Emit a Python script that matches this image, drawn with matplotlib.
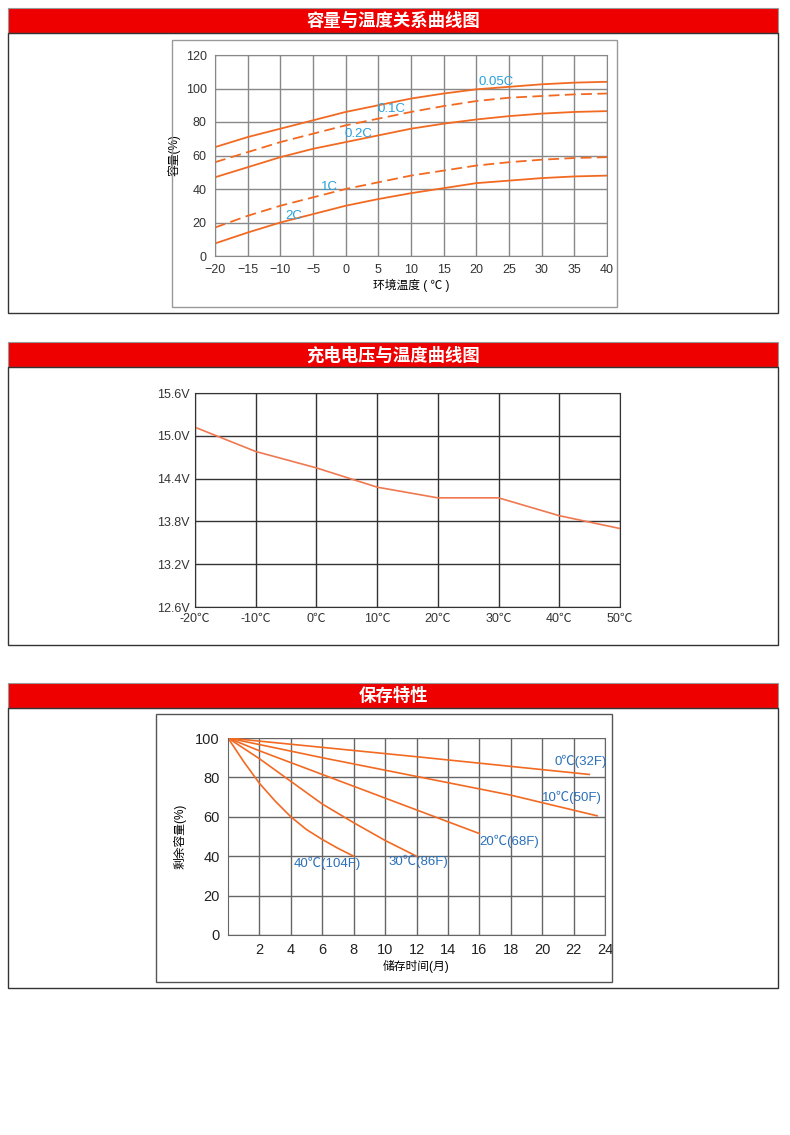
import matplotlib
matplotlib.use("Agg")
import matplotlib.pyplot as plt
from matplotlib.patches import Rectangle

plt.rcParams["font.family"] = ["Liberation Sans", "Noto Sans CJK SC", "DejaVu Sans"]

W, H = 790, 1135

# chart 1: capacity vs temperature
temp1 = [-20, -15, -10, -5, 0, 5, 10, 15, 20, 25, 30, 35, 40]
cap_005 = [65, 71, 76, 81, 86, 90, 94, 97, 99.5, 101, 102.5, 103.5, 104]
cap_01 = [56, 62, 68, 73, 78, 82, 86, 89.5, 92.5, 94.5, 95.5, 96.5, 97]
cap_02 = [47, 53, 59, 64, 68, 72, 76, 79, 81.5, 83.5, 85, 86, 86.5]
cap_1 = [17, 24, 30, 35, 40, 44, 48, 51, 54, 56, 57.5, 58.5, 59]
cap_2 = [7.5, 14, 20, 25, 30, 34, 37.5, 40.5, 43.5, 45, 46.5, 47.5, 48]

# chart 2: charge voltage vs temperature
temp2 = [-20, -10, 0, 10, 20, 30, 40, 50]
volt = [15.12, 14.78, 14.55, 14.28, 14.13, 14.13, 13.88, 13.70]

# chart 3: storage
m0 = [0, 12, 23]; r0 = [100, 90.5, 81.5]
m10 = [0, 6, 12, 18, 23.5]; r10 = [100, 90, 80.5, 71, 60.5]
m20 = [0, 2, 4, 8, 12, 16]; r20 = [100, 93.5, 87.5, 75.5, 63.5, 51.5]
m30 = [0, 2, 4, 6, 8, 10, 12]; r30 = [100, 89.5, 78, 66.5, 57, 48, 40]
m40 = [0, 1, 2, 3, 4, 5, 6, 7, 8]; r40 = [100, 88, 77, 68, 60, 53.5, 48.5, 44, 40]

ORANGE = "#f26a22"
GRID = "#666666"

fig = plt.figure(figsize=(W / 100, H / 100), dpi=100)


def fx(x):
    return x / W


def fy(y):
    return 1 - y / H


def rect(x0, y0, x1, y1, **kw):
    fig.patches.append(Rectangle((fx(x0), fy(y1)), (x1 - x0) / W, (y1 - y0) / H,
                                 transform=fig.transFigure, **kw))


def header(y0, y1, text):
    rect(8, y0, 778, y1, facecolor="#ee0000", edgecolor="#999999", lw=0.8)
    fig.text(fx(393), fy((y0 + y1) / 2), text, color="white", fontsize=12.5,
             fontweight="bold", ha="center", va="center")


def axes(x0, y0, x1, y1):
    return fig.add_axes([fx(x0), fy(y1), (x1 - x0) / W, (y1 - y0) / H])


# panel 1
header(8, 33, "容量与温度关系曲线图")
rect(8, 33, 778, 313, facecolor="none", edgecolor="#333333", lw=1)
rect(172, 40, 617, 307, facecolor="none", edgecolor="#999999", lw=1)
ax = axes(215, 55, 607, 256)
for ys, ls in [(cap_005, "-"), (cap_01, (0, (6, 3))), (cap_02, "-"), (cap_1, (0, (6, 3))), (cap_2, "-")]:
    ax.plot(temp1, ys, color=ORANGE, lw=1.3, ls=ls)
ax.set_xlim(-20, 40)
ax.set_ylim(0, 120)
ax.set_xticks(range(-20, 41, 5))
ax.set_yticks(range(0, 121, 20))
ax.set_xticklabels(["−20", "−15", "−10", "−5", "0", "5", "10", "15", "20", "25", "30", "35", "40"])
ax.grid(True, color="#888888", lw=1)
ax.tick_params(length=0, labelsize=9, colors="#333333", pad=6)
for s in ax.spines.values():
    s.set_color("#888888")
ax.set_xlabel("环境温度 ( ℃ )", fontsize=8.5, labelpad=2)
ax.set_ylabel("容量(%)", fontsize=8.5, labelpad=4)
for x, y, t in [(23, 104, "0.05C"), (7, 88, "0.1C"), (2, 73, "0.2C"), (-2.5, 41, "1C"), (-8, 24, "2C")]:
    ax.text(x, y, t, color="#2aa0dc", fontsize=9.5, ha="center", va="center")

# panel 2
header(342, 367, "充电电压与温度曲线图")
rect(8, 367, 778, 645, facecolor="none", edgecolor="#333333", lw=1)
ax = axes(195, 393, 620, 607)
ax.plot(temp2, volt, color="#f07850", lw=1.2)
ax.set_xlim(-20, 50)
ax.set_ylim(12.6, 15.6)
ax.set_xticks(range(-20, 51, 10))
ax.set_xticklabels([f"{t}℃" for t in temp2])
ax.set_yticks([12.6, 13.2, 13.8, 14.4, 15.0, 15.6])
ax.set_yticklabels(["12.6V", "13.2V", "13.8V", "14.4V", "15.0V", "15.6V"])
ax.grid(True, color="#333333", lw=1)
ax.tick_params(length=0, labelsize=9, colors="#333333", pad=4)
for s in ax.spines.values():
    s.set_color("#333333")

# panel 3
header(683, 708, "保存特性")
rect(8, 708, 778, 988, facecolor="none", edgecolor="#333333", lw=1)
rect(156, 714, 612, 982, facecolor="none", edgecolor="#555555", lw=1)
ax = axes(228, 738, 605, 935)
for xs, ys in [(m0, r0), (m10, r10), (m20, r20), (m30, r30), (m40, r40)]:
    ax.plot(xs, ys, color=ORANGE, lw=1.2)
ax.set_xlim(0, 24)
ax.set_ylim(0, 100)
ax.set_xticks(range(2, 25, 2))
ax.set_yticks(range(0, 101, 20))
ax.grid(True, color=GRID, lw=1)
ax.tick_params(length=0, labelsize=10.5, colors="#222222", pad=6)
ax.spines["top"].set_visible(False)
for s in ["left", "right", "bottom"]:
    ax.spines[s].set_color(GRID)
ax.set_xlabel("储存时间(月)", fontsize=8.5, labelpad=2)
ax.set_ylabel("剩余容量(%)", fontsize=8.5, labelpad=6)
for x, y, t in [(20.8, 88, "0℃(32F)"), (20.0, 70, "10℃(50F)"), (16.0, 47.5, "20℃(68F)"),
                (10.2, 37.5, "30℃(86F)"), (4.2, 36.5, "40℃(104F)")]:
    ax.text(x, y, t, color="#2a6fb8", fontsize=9.5, ha="left", va="center")

fig.savefig("out.png", dpi=100)
